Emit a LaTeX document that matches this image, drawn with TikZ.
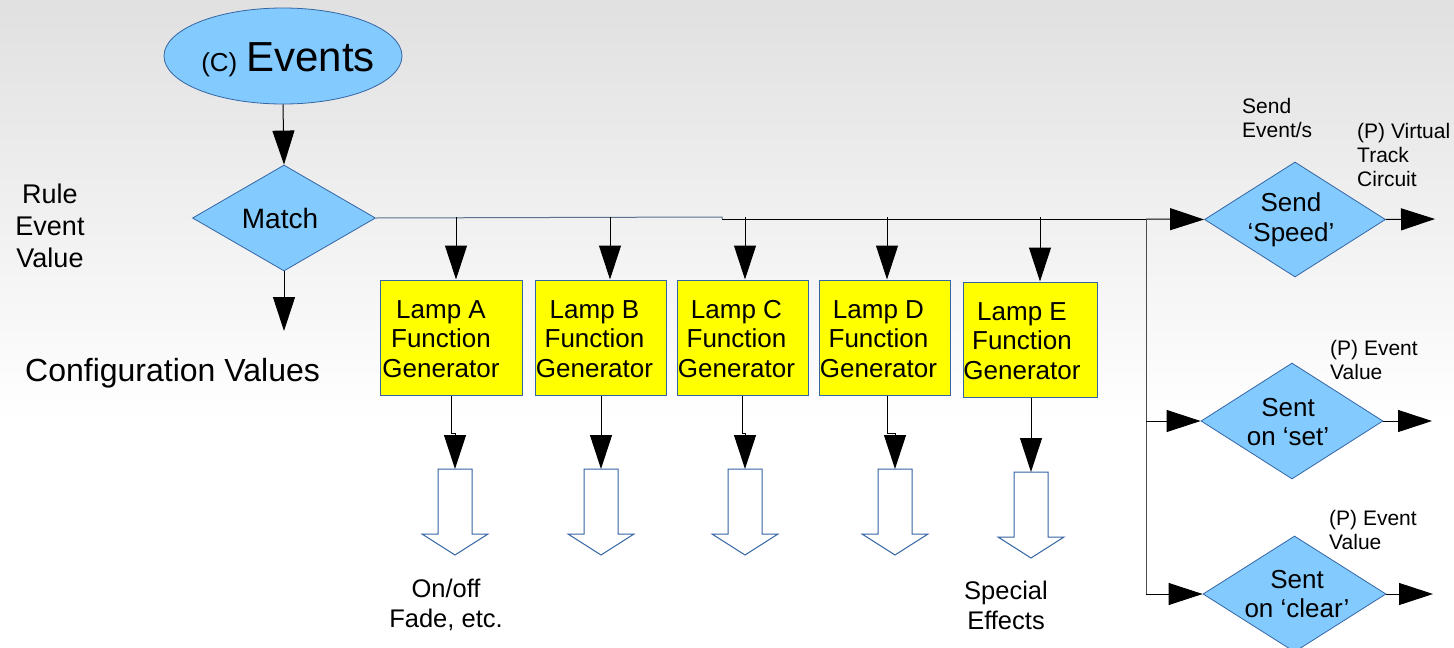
\documentclass[tikz,border=0pt]{standalone}
\usepackage{fontspec}
\setmainfont{Liberation Sans}
\usetikzlibrary{arrows.meta,shapes.geometric,calc}
\definecolor{bl}{HTML}{83CAFF}
\definecolor{bd}{HTML}{3465A4}
\definecolor{bus}{HTML}{5A7390}
\definecolor{ylw}{RGB}{255,255,0}
\newcommand{\fs}[2]{\fontsize{#1}{#2}\selectfont}
\newcommand{\hollowarrow}[3]{%
  \coordinate (#3) at (#1,#2);
  \draw[bd, fill=white, line width=1pt, line join=miter]
    ($(#3)+(-17,0)$) -- ($(#3)+(17,0)$) -- ($(#3)+(17,65)$) -- ($(#3)+(33,65)$)
    -- ($(#3)+(0,86)$) -- ($(#3)+(-33,65)$) -- ($(#3)+(-17,65)$) -- cycle;}
\begin{document}
\begin{tikzpicture}[x=1pt,y=-1pt,
  arr/.style={-{Triangle[length=34pt,width=22pt]}, line width=1pt, black},
  blueshape/.style={draw=bd, fill=bl, line width=0.8pt, inner sep=0pt},
  dia/.style={blueshape, diamond},
  lampbox/.style={draw=bd, fill=ylw, line width=1pt, inner sep=0pt},
  lamptext/.style={align=center, font=\fs{26}{29.5}, inner sep=0pt},
  txt/.style={inner sep=0pt}]
\useasboundingbox (0,0) rectangle (1454,648);
\shade[top color=black!12, bottom color=white] (0,0) rectangle (1454,420);
\fill[white] (0,420) rectangle (1454,648);

% events
\node[blueshape, ellipse, minimum width=238pt, minimum height=96pt] (ev) at (283,56) {};
\node[txt, anchor=base] (evt) at (288,71) {{\fs{26}{30}(C)}\hspace{9pt}{\fs{42}{48}Events}};

% match
\node[dia, minimum width=183pt, minimum height=106pt] (match) at (284,218) {};
\node[txt, font=\fs{28}{32}] (matcht) at (280,218) {Match};
\draw[arr] (ev.south) -- (match.north);
\coordinate (mdown) at (284,331);
\draw[arr] (match.south) -- (mdown);

% left texts
\node[txt, align=center, font=\fs{27}{32}] (rule) at (50,226) {Rule\\Event\\Value};
\node[txt, anchor=west, font=\fs{32}{36}] (conf) at (25,373) {Configuration Values};

% lamp boxes
\node[lampbox, minimum width=142pt, minimum height=115pt] (la) at (451,337.5) {};
\node[lampbox, minimum width=131pt, minimum height=115pt] (lb) at (600.5,337.5) {};
\node[lampbox, minimum width=131pt, minimum height=115pt] (lc) at (742.5,337.5) {};
\node[lampbox, minimum width=131pt, minimum height=115pt] (ld) at (884.5,337.5) {};
\node[lampbox, minimum width=134pt, minimum height=115pt] (le) at (1030,339.5) {};
\node[lamptext] (lat) at (441,339) {Lamp A\\Function\\Generator};
\node[lamptext] (lbt) at (594.5,339) {Lamp B\\Function\\Generator};
\node[lamptext] (lct) at (736.5,339) {Lamp C\\Function\\Generator};
\node[lamptext] (ldt) at (878.5,339) {Lamp D\\Function\\Generator};
\node[lamptext] (let) at (1022,341) {Lamp E\\Function\\Generator};

% send speed diamond
\node[dia, minimum width=181pt, minimum height=115pt] (sp) at (1295,219.5) {};
\node[txt, align=center, font=\fs{26}{30}] (spt) at (1291,220) {Send\\‘Speed’};
\node[dia, minimum width=182pt, minimum height=116pt] (set) at (1292,421) {};
\node[txt, align=center, font=\fs{26}{29}] (sett) at (1288,422) {Sent\\on ‘set’};
\node[dia, minimum width=183pt, minimum height=116pt] (clr) at (1294.5,594) {};
\node[txt, align=center, font=\fs{26}{29}] (clrt) at (1297,594) {Sent\\on ‘clear’};

% bus
\coordinate (b0) at (722,217);
\coordinate (b1) at (722,219);
\coordinate (bj) at (1146,219);
\draw[bus, line width=1pt] (match.east) -- (b0) -- (b1);
\draw[line width=1pt] (b1) -- (bj);
\draw[arr] (bj) -- (sp.west);
\foreach \n/\x in {la/456, lb/610, lc/745, ld/887, le/1040}
  \draw[arr] (\x,217) -- (\n.north -| \x,0);

\coordinate (vs) at (1146,421);
\coordinate (vc) at (1146,594);
\draw[black!70, line width=1pt] (bj) -- (vc);
\draw[arr] (vs) -- (set.west);
\draw[arr] (vc) -- (clr.west);

% outputs
\coordinate (o1) at (1435,219);
\coordinate (o2) at (1432,421);
\coordinate (o3) at (1433,594);
\draw[arr] (sp.east) -- (o1);
\draw[arr] (set.east) -- (o2);
\draw[arr] (clr.east) -- (o3);

% right labels
\node[txt, align=left, anchor=north west, font=\fs{21}{24}] (sev) at (1242,98) {Send\\Event/s};
\node[txt, align=left, anchor=north west, font=\fs{21}{24}] (vtc) at (1357,123) {(P) Virtual\\Track\\Circuit};
\node[txt, align=left, anchor=north west, font=\fs{21}{24}] (ev1) at (1330,340) {(P) Event\\Value};
\node[txt, align=left, anchor=north west, font=\fs{21}{24}] (ev2) at (1329,510) {(P) Event\\Value};

% hollow arrows
\hollowarrow{455}{469}{ha}
\hollowarrow{601}{469}{hb}
\hollowarrow{745}{469}{hc}
\hollowarrow{895}{469}{hd}
\hollowarrow{1031}{472}{he}

\draw[arr] (la.south -| 451,0) -- (451,433) -- (455,433) -- (ha);
\draw[arr] (lb.south -| 601,0) -- (hb);
\draw[arr] (lc.south -| 742,0) -- (742,433) -- (745,433) -- (hc);
\draw[arr] (ld.south -| 887,0) -- (887,433) -- (895,433) -- (hd);
\draw[arr] (le.south -| 1031,0) -- (he);

\node[txt, align=center, font=\fs{25.5}{30}] (onoff) at (446,605) {On/off\\Fade, etc.};
\node[txt, align=center, font=\fs{25.5}{30}] (spec) at (1006,605) {Special\\Effects};
\end{tikzpicture}
\end{document}
